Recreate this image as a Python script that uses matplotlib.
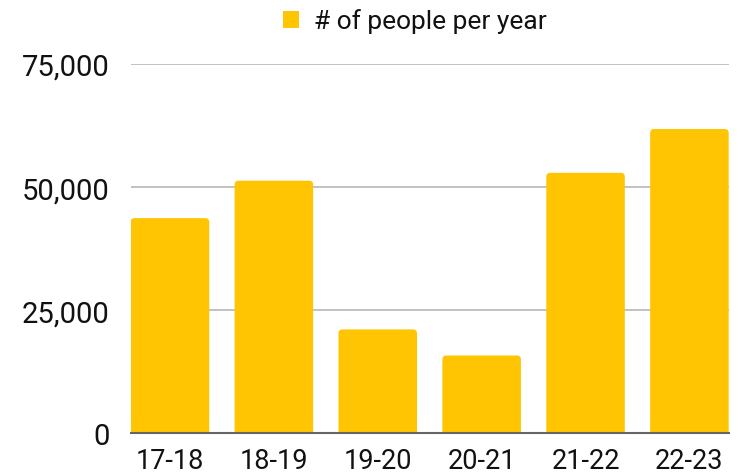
import matplotlib
matplotlib.use('Agg')
import matplotlib.pyplot as plt
from matplotlib.patches import FancyBboxPatch, Patch
from matplotlib.ticker import FuncFormatter

seasons = ['17-18', '18-19', '19-20', '20-21', '21-22', '22-23']
people = [43700, 51300, 21100, 15800, 52900, 61800]
y_ticks = [0, 25000, 50000, 75000]
series_name = '# of people per year'

bar_color = '#FFC502'
plt.rcParams['font.family'] = ['Roboto', 'DejaVu Sans']

W, H = 742, 477
fig = plt.figure(figsize=(W / 100, H / 100), dpi=100)
ax = fig.add_axes([130.7 / W, (H - 434.3) / H, (728.7 - 130.7) / W, (434.3 - 65) / H])

width = 0.756
bars = ax.bar(range(len(seasons)), people, width=width, color=bar_color, zorder=2)
ax.set_xlim(-width / 2, len(seasons) - 1 + width / 2)
ax.set_ylim(0, 75000)

# rounded top corners: redraw each bar as a fancy box that runs below the baseline
px_x = (len(seasons) - 1 + width) / (728.7 - 130.7)
px_y = 75000 / (434.3 - 65)
for b in bars:
    b.set_visible(False)
    x0, w, h = b.get_x(), b.get_width(), b.get_height()
    ext = 20 * px_y
    fb = FancyBboxPatch((x0, -ext), w, h + ext,
                        boxstyle='round,pad=0,rounding_size={}'.format(4 * px_x),
                        mutation_aspect=px_y / px_x,
                        facecolor=bar_color, edgecolor='none', zorder=2)
    ax.add_patch(fb)

ax.set_yticks(y_ticks)
ax.yaxis.set_major_formatter(FuncFormatter(lambda v, p: '{:,.0f}'.format(v)))
ax.set_xticks(range(len(seasons)))
ax.set_xticklabels(seasons)
ax.tick_params(axis='y', length=0, pad=15, labelsize=21, labelcolor='#111111')
ax.tick_params(axis='x', length=0, pad=10, labelsize=19.5, labelcolor='#111111')

ax.grid(axis='y', color='#BDBDBD', linewidth=1.3, zorder=0)
for s in ['top', 'right', 'left']:
    ax.spines[s].set_visible(False)
ax.spines['bottom'].set_color('#666666')
ax.spines['bottom'].set_linewidth(1.5)
ax.spines['bottom'].set_zorder(3)

handle = Patch(facecolor=bar_color, edgecolor='none')
fig.legend([handle], [series_name], loc='center', bbox_to_anchor=(415 / W, 1 - 22 / H),
           frameon=False, fontsize=19, handlelength=0.6, handleheight=0.6,
           handletextpad=0.6, labelcolor='#111111')

fig.savefig('out.png', dpi=100)
plt.close()
